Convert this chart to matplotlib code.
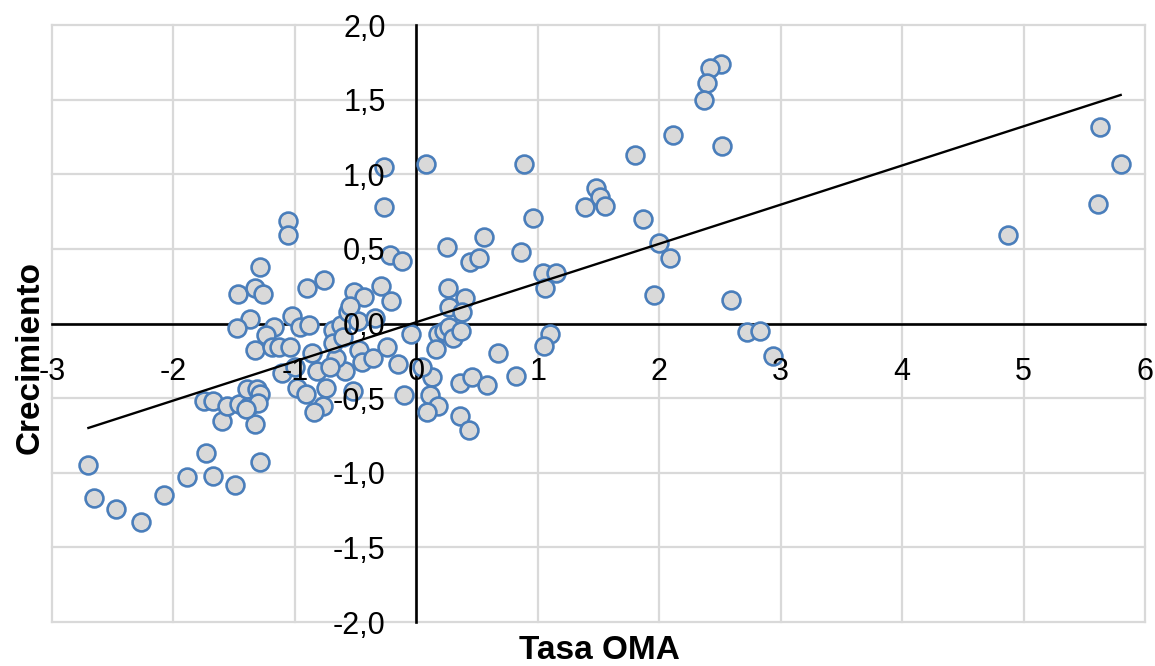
import numpy as np
import matplotlib
matplotlib.use("Agg")
import matplotlib.pyplot as plt

# Datos (Tasa OMA vs Crecimiento)
tasa_oma = [
    -2.70, -2.65, -2.47, -2.27, -2.08, -1.89, -1.73, -1.67, -1.49, -1.29,
    -1.75, -1.67, -1.60, -1.56, -1.46, -1.38, -1.33, -1.39, -1.31, -1.29, -1.30, -1.40,
    -1.29, -1.47, -1.33, -1.26, -0.90, -0.76, -1.06, -1.06, -1.37, -1.48, -1.17, -1.24,
    -1.02, -0.96, -0.88, -1.33, -1.19, -1.13, -1.04, -0.86, -1.11, -1.00, -0.82, -0.98,
    -0.91, -0.74, -0.77, -0.84, -0.59, -0.66, -0.71, -0.52, -0.47, -0.45, -0.36, -0.24,
    -0.15, -0.10, -0.04, -0.69, -0.62, -0.69, -0.60, -0.56, -0.48, -0.34, -0.51, -0.43,
    -0.29, -0.21, -0.22, -0.12, -0.27, -0.27, -0.55,
    0.08, 0.89, 0.96, 0.25, 0.56, 0.44, 0.52, 0.86, 1.04, 1.15, 1.06, 0.26, 0.27, 0.40,
    0.38, 0.18, 0.23, 0.27, 0.30, 0.37, 0.16, 1.10, 1.05, 0.67, 0.82, 0.13, 0.05, 0.36,
    0.46, 0.58, 0.11, 0.18, 0.09, 0.36, 0.43,
    2.51, 2.42, 2.39, 2.37, 2.11, 2.52, 1.80, 1.48, 1.51, 1.39, 1.55, 1.87, 2.00, 2.09,
    1.96, 2.59, 2.72, 2.83, 2.94, 4.87, 5.61, 5.63, 5.80,
]
crecimiento = [
    -0.95, -1.17, -1.24, -1.33, -1.15, -1.03, -0.87, -1.02, -1.08, -0.93,
    -0.52, -0.52, -0.65, -0.55, -0.54, -0.55, -0.67, -0.44, -0.44, -0.47, -0.53, -0.57,
    0.38, 0.20, 0.24, 0.20, 0.24, 0.29, 0.69, 0.59, 0.03, -0.03, -0.02, -0.08,
    0.05, -0.02, -0.01, -0.18, -0.16, -0.16, -0.16, -0.20, -0.33, -0.29, -0.32, -0.43,
    -0.47, -0.43, -0.55, -0.59, -0.32, -0.23, -0.29, -0.45, -0.18, -0.26, -0.23, -0.16,
    -0.27, -0.48, -0.07, -0.04, -0.01, -0.13, -0.09, 0.08, 0.02, 0.04, 0.21, 0.18,
    0.25, 0.15, 0.46, 0.42, 1.05, 0.78, 0.12,
    1.07, 1.07, 0.71, 0.51, 0.58, 0.41, 0.44, 0.48, 0.34, 0.34, 0.24, 0.24, 0.11, 0.17,
    0.08, -0.07, -0.05, -0.02, -0.10, -0.05, -0.17, -0.07, -0.15, -0.20, -0.35, -0.36, -0.29, -0.40,
    -0.36, -0.41, -0.48, -0.55, -0.59, -0.62, -0.71,
    1.74, 1.71, 1.61, 1.50, 1.26, 1.19, 1.13, 0.91, 0.85, 0.78, 0.79, 0.70, 0.54, 0.44,
    0.19, 0.16, -0.06, -0.05, -0.22, 0.59, 0.80, 1.32, 1.07,
]

x_ticks = [-3, -2, -1, 0, 1, 2, 3, 4, 5, 6]
y_ticks = [-2.0, -1.5, -1.0, -0.5, 0.0, 0.5, 1.0, 1.5, 2.0]
x_labels = ["-3", "-2", "-1", "0", "1", "2", "3", "4", "5", "6"]
y_labels = ["-2,0", "-1,5", "-1,0", "-0,5", "0,0", "0,5", "1,0", "1,5", "2,0"]

x = np.array(tasa_oma)
y = np.array(crecimiento)

fig = plt.figure(figsize=(11.55, 6.66), dpi=100)
ax = fig.add_axes([0.045, 0.066, 0.9463, 0.8964])
ax.set_xlim(-3, 6)
ax.set_ylim(-2, 2)

# rejilla gris
for t in x_ticks:
    ax.axvline(t, color="#d9d9d9", lw=1.6, zorder=0.5, clip_on=False)
for t in y_ticks:
    ax.axhline(t, color="#d9d9d9", lw=1.6, zorder=0.5, clip_on=False)

# ejes en el cero
ax.spines["left"].set_position(("data", 0))
ax.spines["bottom"].set_position(("data", 0))
ax.spines["top"].set_visible(False)
ax.spines["right"].set_visible(False)
for s in ("left", "bottom"):
    ax.spines[s].set_color("black")
    ax.spines[s].set_linewidth(1.9)
    ax.spines[s].set_zorder(1)

ax.scatter(x, y, s=165, facecolor="#d9d9d9", edgecolor="#4a7ebb",
           linewidths=1.9, zorder=2)

# línea de tendencia lineal
m, b = np.polyfit(x, y, 1)
xl = np.array([x.min(), x.max()])
ax.plot(xl, m * xl + b, color="black", lw=1.7, zorder=3)

ax.set_xticks(x_ticks)
ax.set_xticklabels(x_labels, fontsize=22, family="Liberation Sans")
ax.set_yticks(y_ticks)
ax.set_yticklabels(y_labels, fontsize=22, family="Liberation Sans")
ax.tick_params(axis="x", length=0, pad=24)
ax.tick_params(axis="y", length=0, pad=22)
ax.xaxis.set_zorder(4)
ax.yaxis.set_zorder(4)

fig.text(0.026, 0.4625, "Crecimiento", rotation=90, ha="center", va="center",
         fontsize=24, fontweight="bold", family="Liberation Sans")
fig.text(0.519, 0.024, "Tasa OMA", ha="center", va="center",
         fontsize=24, fontweight="bold", family="Liberation Sans")

fig.savefig("out.png", dpi=100)
